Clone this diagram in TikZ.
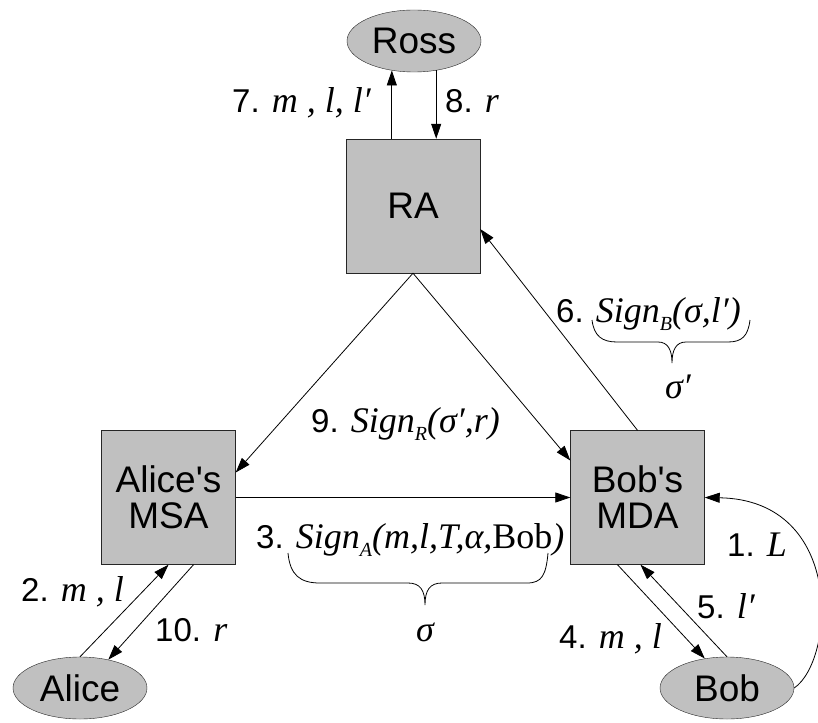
\documentclass[tikz,border=0pt]{standalone}
\usepackage{fontspec}
\setmainfont{Liberation Sans}[Ligatures=TeXOff]
\newfontfamily\tms{Liberation Serif}
\usetikzlibrary{arrows.meta,shapes.geometric}
\definecolor{boxgray}{RGB}{192,192,192}
\newcommand\mi[1]{{\fontsize{36}{36}\selectfont\tms\itshape #1}}
\newcommand\sgn[1]{{\fontsize{36}{36}\selectfont\tms\itshape Sign\raisebox{-8pt}{\fontsize{20}{20}\selectfont #1}}}
\begin{document}
\begin{tikzpicture}[x=1pt,y=-1pt,
  box/.style={draw=black!85, fill=boxgray, minimum width=134pt, minimum height=134pt,
    inner sep=0pt, align=center, font=\fontsize{37}{36}\selectfont},
  agent/.style={ellipse, draw=black!85, fill=boxgray, minimum width=134pt,
    minimum height=62pt, inner sep=0pt, font=\fontsize{37}{36}\selectfont},
  conn/.style={line width=0.8pt, -{Triangle[length=15pt,width=10pt]}},
  bracestyle/.style={line width=0.8pt},
  lbl/.style={anchor=base west, inner sep=0pt, font=\fontsize{33}{36}\selectfont}]
\useasboundingbox (0,0) rectangle (818,722);

\node[agent] (Ross) at (414,41) {Ross};
\node[box] (RA) at (413,206) {RA};
\node[box] (MSA) at (168.5,497.5) {Alice's\\MSA};
\node[box] (MDA) at (637.5,497.5) {Bob's\\MDA};
\node[agent] (Alice) at (80,688) {Alice};
\node[agent] (Bob) at (727,688) {Bob};

\draw[conn] (RA.north -| Ross.233) -- (Ross.233);
\draw[conn] (Ross.307) -- (Ross.307 |- RA.north);
\draw[conn] (RA.south) -- ([yshift=25pt]MSA.east);
\draw[conn] (RA.south) -- ([yshift=37pt]MDA.west);
\draw[conn] (MDA.north) -- ([yshift=-23pt]RA.east);
\draw[conn] (MSA.east) -- (MDA.west);
\draw[conn] (Alice.north) -- (MSA.south);
\draw[conn] ([xshift=25pt]MSA.south) -- (Alice.45);
\draw[conn] ([xshift=-20pt]MDA.south) -- (Bob.127);
\draw[conn] (Bob.north) -- ([xshift=3pt]MDA.south);
\draw[conn] (Bob.east) .. controls (835,660) and (845,500) .. (MDA.east);

\node[lbl, anchor=base east] (l7) at (371,113) {7. \mi{m , l, l′}};
\node[lbl] (l8) at (445,113) {8. \mi{r}};
\node[lbl] (l6) at (556,322) {6. \sgn{B}\mi{(σ,l′)}};
\node[lbl] (l9) at (311,432) {9. \sgn{R}\mi{(σ′,r)}};
\node[lbl] (l3) at (256,548) {3. \sgn{A}\mi{(m,l,T,α,}{\fontsize{36}{36}\selectfont\tms Bob}\mi{)}};
\node[lbl] (l2) at (21,601) {2. \mi{m , l}};
\node[lbl] (l10) at (155,641) {10. \mi{r}};
\node[lbl] (l4) at (559,648) {4. \mi{m , l}};
\node[lbl] (l5) at (697,618) {5. \mi{l′}};
\node[lbl] (l1) at (727,556) {1. \mi{L}};

\draw[bracestyle] (288,553) .. controls (290,575) and (300,583) .. (320,583) -- (408,583)
  .. controls (420,583) and (425,590) .. (425,605)
  .. controls (425,590) and (430,583) .. (442,583) -- (527,583)
  .. controls (542,583) and (546,575) .. (548,553);
\node[inner sep=0pt] (sig) at (425,632) {\mi{σ}};

\draw[bracestyle] (592,320) .. controls (594,336) and (602,342) .. (617,342) -- (658,342)
  .. controls (668,342) and (672,350) .. (672,363)
  .. controls (672,350) and (676,342) .. (686,342) -- (728,342)
  .. controls (742,342) and (748,336) .. (750,320);
\node[inner sep=0pt] (sigp) at (678,387) {\mi{σ′}};
\end{tikzpicture}
\end{document}
